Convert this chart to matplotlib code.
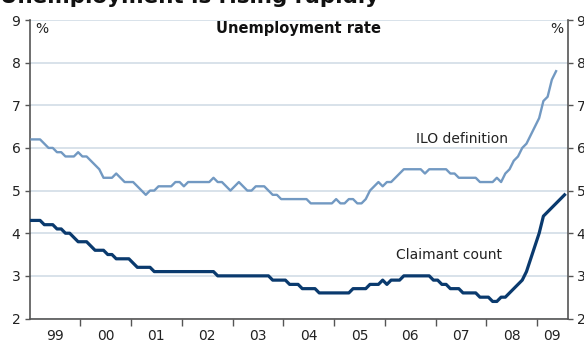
import numpy as np
import matplotlib
matplotlib.use("Agg")
import matplotlib.pyplot as plt

plt.rcParams['font.family'] = ['DejaVu Sans']

# Monthly data, starting January 1999
start_year = 1999
ilo_rate = [
    6.2, 6.2, 6.2, 6.1, 6.0, 6.0, 5.9, 5.9, 5.8, 5.8, 5.8, 5.9,   # 1999
    5.8, 5.8, 5.7, 5.6, 5.5, 5.3, 5.3, 5.3, 5.4, 5.3, 5.2, 5.2,   # 2000
    5.2, 5.1, 5.0, 4.9, 5.0, 5.0, 5.1, 5.1, 5.1, 5.1, 5.2, 5.2,   # 2001
    5.1, 5.2, 5.2, 5.2, 5.2, 5.2, 5.2, 5.3, 5.2, 5.2, 5.1, 5.0,   # 2002
    5.1, 5.2, 5.1, 5.0, 5.0, 5.1, 5.1, 5.1, 5.0, 4.9, 4.9, 4.8,   # 2003
    4.8, 4.8, 4.8, 4.8, 4.8, 4.8, 4.7, 4.7, 4.7, 4.7, 4.7, 4.7,   # 2004
    4.8, 4.7, 4.7, 4.8, 4.8, 4.7, 4.7, 4.8, 5.0, 5.1, 5.2, 5.1,   # 2005
    5.2, 5.2, 5.3, 5.4, 5.5, 5.5, 5.5, 5.5, 5.5, 5.4, 5.5, 5.5,   # 2006
    5.5, 5.5, 5.5, 5.4, 5.4, 5.3, 5.3, 5.3, 5.3, 5.3, 5.2, 5.2,   # 2007
    5.2, 5.2, 5.3, 5.2, 5.4, 5.5, 5.7, 5.8, 6.0, 6.1, 6.3, 6.5,   # 2008
    6.7, 7.1, 7.2, 7.6, 7.8,                                       # 2009
]
claimant_count = [
    4.3, 4.3, 4.3, 4.2, 4.2, 4.2, 4.1, 4.1, 4.0, 4.0, 3.9, 3.8,   # 1999
    3.8, 3.8, 3.7, 3.6, 3.6, 3.6, 3.5, 3.5, 3.4, 3.4, 3.4, 3.4,   # 2000
    3.3, 3.2, 3.2, 3.2, 3.2, 3.1, 3.1, 3.1, 3.1, 3.1, 3.1, 3.1,   # 2001
    3.1, 3.1, 3.1, 3.1, 3.1, 3.1, 3.1, 3.1, 3.0, 3.0, 3.0, 3.0,   # 2002
    3.0, 3.0, 3.0, 3.0, 3.0, 3.0, 3.0, 3.0, 3.0, 2.9, 2.9, 2.9,   # 2003
    2.9, 2.8, 2.8, 2.8, 2.7, 2.7, 2.7, 2.7, 2.6, 2.6, 2.6, 2.6,   # 2004
    2.6, 2.6, 2.6, 2.6, 2.7, 2.7, 2.7, 2.7, 2.8, 2.8, 2.8, 2.9,   # 2005
    2.8, 2.9, 2.9, 2.9, 3.0, 3.0, 3.0, 3.0, 3.0, 3.0, 3.0, 2.9,   # 2006
    2.9, 2.8, 2.8, 2.7, 2.7, 2.7, 2.6, 2.6, 2.6, 2.6, 2.5, 2.5,   # 2007
    2.5, 2.4, 2.4, 2.5, 2.5, 2.6, 2.7, 2.8, 2.9, 3.1, 3.4, 3.7,   # 2008
    4.0, 4.4, 4.5, 4.6, 4.7, 4.8, 4.9,                             # 2009
]
year_labels = ['99', '00', '01', '02', '03', '04', '05', '06', '07', '08', '09']
y_ticks = [2, 3, 4, 5, 6, 7, 8, 9]

ilo_x = start_year + (np.arange(len(ilo_rate)) + 0.5) / 12
cc_x = start_year + (np.arange(len(claimant_count)) + 0.5) / 12

W, H = 584, 344
fig = plt.figure(figsize=(W / 100, H / 100), dpi=100)
left, right, top, bottom = 29.5, 567.5, 20, 318.5
ax = fig.add_axes([left / W, 1 - bottom / H, (right - left) / W, (bottom - top) / H])

ax.plot(ilo_x, ilo_rate, color='#7299c2', lw=1.7, zorder=3, solid_joinstyle='round')
ax.plot(cc_x, claimant_count, color='#0a3a6e', lw=2.3, zorder=4, solid_joinstyle='round')

ax.set_xlim(1999.0, 2009.6)
ax.set_ylim(2, 9)

ax.set_yticks(y_ticks)
ax.yaxis.grid(True, color='#d6dfe8', lw=1.3, zorder=0)
ax.set_axisbelow(True)
ax.tick_params(axis='y', which='both', left=True, right=True, labelleft=True,
               labelright=True, direction='out', length=3.5, width=1,
               color='#555555', labelsize=10, pad=3, labelcolor='#222222')

years = np.arange(2000, 2010)
ax.set_xticks(years)
ax.set_xticklabels([])
mids = [y + 0.5 for y in range(1999, 2009)] + [2009.3]
ax.set_xticks(mids, minor=True)
ax.set_xticklabels(year_labels, minor=True)
ax.tick_params(axis='x', which='major', direction='out', length=5, width=1, color='#555555')
ax.tick_params(axis='x', which='minor', length=0, pad=7.5, labelsize=10, labelcolor='#222222')

for s in ['left', 'right', 'bottom']:
    ax.spines[s].set_color('#555555')
    ax.spines[s].set_linewidth(1.2)
ax.spines['top'].set_visible(False)

fig.text(299 / W, 1 - 29 / H, 'Unemployment rate', ha='center', va='center',
         fontsize=10.5, fontweight='bold', color='#111111')
fig.text(41.5 / W, 1 - 29 / H, '%', ha='center', va='center', fontsize=10, color='#222222')
fig.text(556.5 / W, 1 - 29 / H, '%', ha='center', va='center', fontsize=10, color='#222222')

ax.text(2007.52, 6.21, 'ILO definition', ha='center', va='center', fontsize=10, color='#222222')
ax.text(2007.27, 3.49, 'Claimant count', ha='center', va='center', fontsize=10, color='#222222')

fig.text(0 / W, 1 - 3 / H, 'Unemployment is rising rapidly', ha='left', va='baseline',
         fontsize=15.5, fontweight='bold', color='#111111')

fig.savefig('out.png', dpi=100)
